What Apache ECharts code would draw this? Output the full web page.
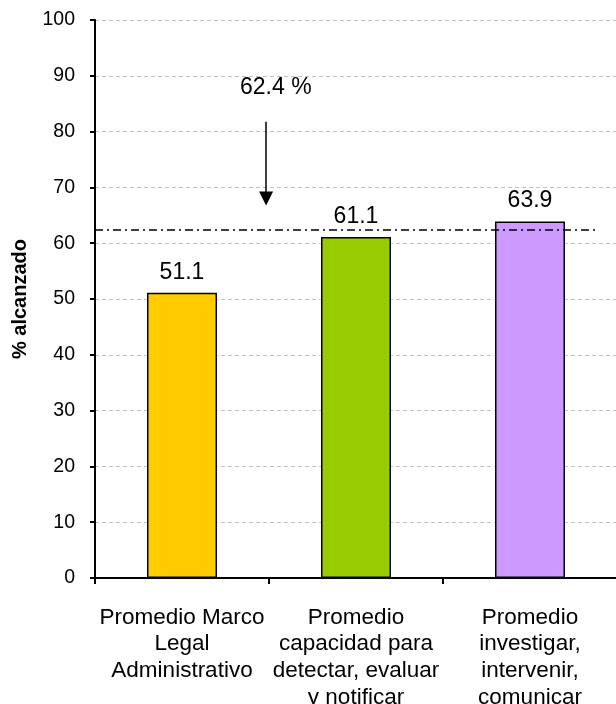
<!DOCTYPE html>
<html>
<head>
<meta charset="utf-8">
<script src="https://cdn.jsdelivr.net/npm/echarts@6/dist/echarts.min.js"></script>
<style>
  html, body { margin: 0; padding: 0; background: #ffffff; }
  #chart { width: 616px; height: 704px; }
</style>
</head>
<body>
<div id="chart"></div>
<script>
// Categories and average scores (%)
const categories = [
  'Promedio Marco\nLegal\nAdministrativo',
  'Promedio\ncapacidad para\ndetectar, evaluar\ny notificar',
  'Promedio\ninvestigar,\nintervenir,\ncomunicar'
];
const values = [51.1, 61.1, 63.9];
const barColors = ['#FFCC00', '#99CC00', '#CC99FF'];

// Overall reference average, drawn as a dash-dot line
const refValue = 62.4;
const refLineEnd = 2.39;          // right end of the reference line (annotation axis units)

// Arrow pointing down to the reference line, with its caption
const arrowX = 0.483;
const arrowFrom = 81.75;
const arrowTo = 68.0;
const captionPos = [0.539, 87.8];

const yTicks = { min: 0, max: 100, interval: 10 };

const FONT = '"Liberation Sans", Arial, sans-serif';

const chart = echarts.init(document.getElementById('chart'), null, { renderer: 'canvas' });

chart.setOption({
  animation: false,
  backgroundColor: '#ffffff',
  grid: {
    left: 95, top: 20, width: 522, height: 558,
    containLabel: false,
    outerBoundsMode: 'none'
  },
  xAxis: [
    {
      type: 'category',
      data: categories,
      axisLine: { show: true, onZero: false, lineStyle: { color: '#000', width: 2 } },
      axisTick: { show: true, alignWithLabel: false, length: 6, lineStyle: { color: '#000', width: 2 } },
      axisLabel: {
        interval: 0,
        margin: 26,
        color: '#000',
        fontFamily: FONT,
        fontSize: 22.5,
        lineHeight: 26.7,
        align: 'center'
      },
      splitLine: { show: false }
    },
    {
      // annotation axis: continuous positions across the category band
      type: 'value',
      min: -0.5,
      max: 2.5,
      show: false,
      splitLine: { show: false }
    }
  ],
  yAxis: {
    type: 'value',
    min: yTicks.min,
    max: yTicks.max,
    interval: yTicks.interval,
    name: '% alcanzado',
    nameLocation: 'middle',
    nameRotate: 90,
    nameGap: 65,
    nameTextStyle: { color: '#000', fontFamily: FONT, fontSize: 20, fontWeight: 'bold' },
    axisLine: { show: true, onZero: false, lineStyle: { color: '#000', width: 2 } },
    axisTick: { show: true, length: 5, lineStyle: { color: '#000', width: 2 } },
    axisLabel: { margin: 20, color: '#000', fontFamily: FONT, fontSize: 19.5 },
    splitLine: { show: true, lineStyle: { color: '#c0c0c0', width: 1.2, type: [4, 3] } }
  },
  series: [
    {
      type: 'bar',
      xAxisIndex: 0,
      yAxisIndex: 0,
      barWidth: 70,
      z: 3,
      data: values.map((v, i) => ({
        value: v,
        itemStyle: { color: barColors[i], borderColor: '#000', borderWidth: 1.5 }
      })),
      label: {
        show: true,
        position: 'top',
        distance: 9,
        color: '#000',
        fontFamily: FONT,
        fontSize: 23,
        formatter: p => p.value.toFixed(1)
      }
    },
    {
      type: 'scatter',
      xAxisIndex: 1,
      yAxisIndex: 0,
      symbolSize: 0,
      silent: true,
      z: 5,
      itemStyle: { opacity: 1 },
      data: [captionPos],
      label: {
        show: true,
        position: 'inside',
        color: '#000',
        opacity: 1,
        fontFamily: FONT,
        fontSize: 23,
        formatter: () => refValue + ' %'
      },
      markLine: {
        silent: true,
        animation: false,
        label: { show: false },
        emphasis: { disabled: true },
        data: [
          [
            { coord: [-0.5, refValue], symbol: 'none',
              lineStyle: { color: '#000', width: 1.5, type: [8, 4, 2, 4] } },
            { coord: [refLineEnd, refValue], symbol: 'none' }
          ],
          [
            { coord: [arrowX, arrowFrom], symbol: 'none',
              lineStyle: { color: '#000', width: 1.5, type: 'solid' } },
            { coord: [arrowX, arrowTo], symbol: 'triangle', symbolSize: [14, 14] }
          ]
        ]
      }
    }
  ]
});
</script>
</body>
</html>
